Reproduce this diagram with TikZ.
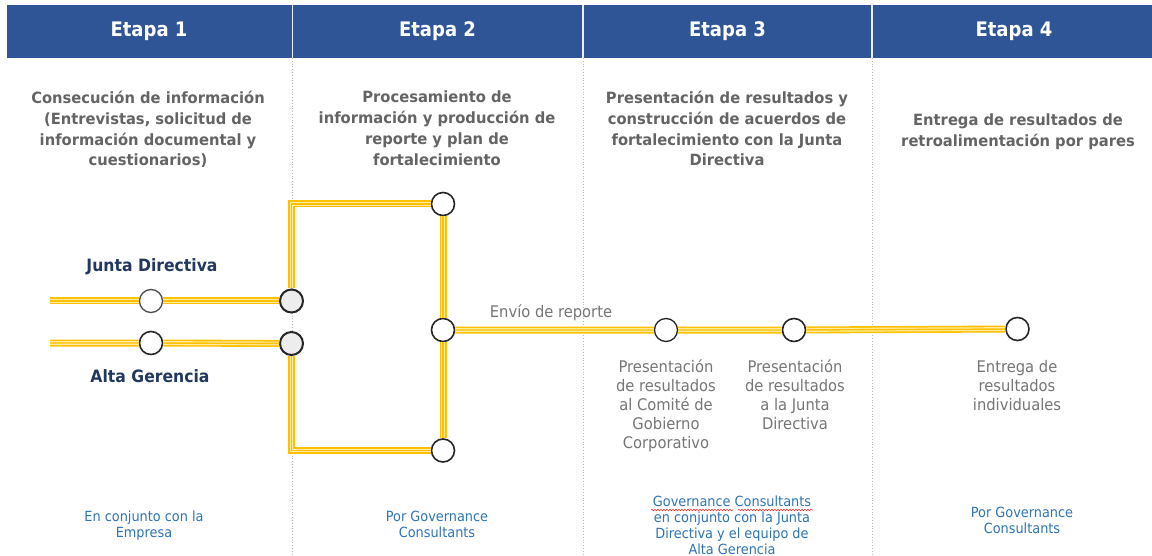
\documentclass[tikz,border=0pt]{standalone}
\usepackage{fontspec}
\setmainfont{DejaVu Sans}
\newfontfamily\hdfont[FakeStretch=0.9]{DejaVu Sans}
\newfontfamily\dsfont[FakeStretch=0.95]{DejaVu Sans}
\newfontfamily\lbfont[FakeStretch=0.92]{DejaVu Sans}
\usetikzlibrary{decorations.pathmorphing}
\definecolor{hdblue}{RGB}{47,85,151}
\definecolor{railgold}{RGB}{255,192,0}
\definecolor{railpale}{RGB}{255,236,160}
\definecolor{txtgray}{RGB}{100,100,100}
\definecolor{lblgray}{RGB}{118,118,118}
\definecolor{navy}{RGB}{34,56,96}
\definecolor{linkblue}{RGB}{46,117,182}
\definecolor{sepgray}{RGB}{185,185,185}
\tikzset{
 hdtext/.style={text=white, font=\hdfont\bfseries\fontsize{20}{24}\selectfont},
 desc/.style={text=txtgray, align=center, anchor=north, inner sep=0pt, font=\dsfont\bfseries\fontsize{15.5}{20.8}\selectfont},
 lbl/.style={text=lblgray, align=center, inner sep=0pt, font=\lbfont\fontsize{16}{19}\selectfont},
 who/.style={text=navy, inner sep=0pt, font=\lbfont\bfseries\fontsize{17}{20}\selectfont},
 byline/.style={text=linkblue, align=center, anchor=north, inner sep=0pt, font=\lbfont\fontsize{14}{16}\selectfont},
 station/.style={circle, draw=black!85, line width=1.6pt, fill=white, minimum size=23pt, inner sep=0pt},
 hub/.style={station, fill=black!7, line width=2pt},
 railA/.style={draw=railgold, line width=7pt, line join=miter},
 railB/.style={draw=railpale, line width=3.8pt, line join=miter},
 railC/.style={draw=railgold, line width=1.4pt, line join=miter},
 colsep/.style={draw=sepgray, line width=0.8pt, dotted},
 hdsep/.style={draw=white!90!hdblue, line width=1.2pt},
 squiggle/.style={draw=red!80, line width=0.6pt, decorate, decoration={snake, amplitude=0.8pt, segment length=3pt}},
}
\newcommand{\railpath}[1]{\draw[railA] #1; \draw[railB] #1; \draw[railC] #1;}
\begin{document}
\begin{tikzpicture}[x=1pt, y=-1pt]
\useasboundingbox (0,0) rectangle (1152,556);
\fill[white] (0,0) rectangle (1152,556);
% header
\fill[hdblue] (7,5) rectangle (1152,58);
\foreach \xx/\nm in {292.5/a, 583/b, 872/c}{
  \coordinate (ht\nm) at (\xx,5);
  \coordinate (hb\nm) at (\xx,58);
  \coordinate (cb\nm) at (\xx,556);
  \draw[hdsep] (ht\nm) -- (hb\nm);
  \draw[colsep] (hb\nm) -- (cb\nm);
}
\node[hdtext] (h1) at (149,31.5) {Etapa 1};
\node[hdtext] (h2) at (437.5,31.5) {Etapa 2};
\node[hdtext] (h3) at (727.5,31.5) {Etapa 3};
\node[hdtext] (h4) at (1014,31.5) {Etapa 4};
% descriptions
\node[desc] (d1) at (148,91) {Consecución de información\\(Entrevistas, solicitud de\\información documental y\\cuestionarios)};
\node[desc] (d2) at (437,91) {Procesamiento de\\información y producción de\\reporte y plan de\\fortalecimiento};
\node[desc] (d3) at (727,91) {Presentación de resultados y\\construcción de acuerdos de\\fortalecimiento con la Junta\\Directiva};
\node[desc] (d4) at (1018,113.5) {Entrega de resultados de\\retroalimentación por pares};
% stations
\node[station, draw=black!70, line width=1.3pt] (j1) at (151,301) {};
\node[hub] (jh) at (291.5,301) {};
\node[station] (a1) at (151,343) {};
\node[hub] (ah) at (291.5,343.5) {};
\node[station] (t2) at (443,204) {};
\node[station] (m2) at (443,330) {};
\node[station] (b2) at (443,450.5) {};
\node[station, line width=1.3pt] (c1) at (666,330) {};
\node[station] (c2) at (794,330) {};
\node[station] (c3) at (1017.5,329) {};
\coordinate (jl) at (50,301);
\coordinate (al) at (50,343);
% rails
\railpath{(jl) -- (j1) -- (jh)}
\railpath{(al) -- (a1) -- (ah)}
\railpath{(jh) |- (t2)}
\railpath{(ah) |- (b2)}
\railpath{(t2) -- (m2) -- (b2)}
\railpath{(m2) -- (c1) -- (c2) -- (c3)}
% labels
\node[who] (wj) at (152,267) {Junta Directiva};
\node[who] (wa) at (150,376) {Alta Gerencia};
\node[lbl] (env) at (551,313) {Envío de reporte};
\node[lbl, anchor=north] (l1) at (666,360) {Presentación\\de resultados\\al Comité de\\Gobierno\\Corporativo};
\node[lbl, anchor=north] (l2) at (795,360) {Presentación\\de resultados\\a la Junta\\Directiva};
\node[lbl, anchor=north] (l3) at (1017,360) {Entrega de\\resultados\\individuales};
% bylines
\node[byline] (s1) at (144,511) {En conjunto con la\\Empresa};
\node[byline] (s2) at (437,511) {Por Governance\\Consultants};
\node[byline] (s3) at (732,496) {Governance Consultants\\en conjunto con la Junta\\Directiva y el equipo de\\Alta Gerencia};
\node[byline] (s4) at (1022,507) {Por Governance\\Consultants};
\coordinate (q1) at (651,510);
\coordinate (q2) at (733,510);
\coordinate (q3) at (738,510);
\coordinate (q4) at (813,510);
\draw[squiggle] (q1) -- (q2);
\draw[squiggle] (q3) -- (q4);
\end{tikzpicture}
\end{document}
